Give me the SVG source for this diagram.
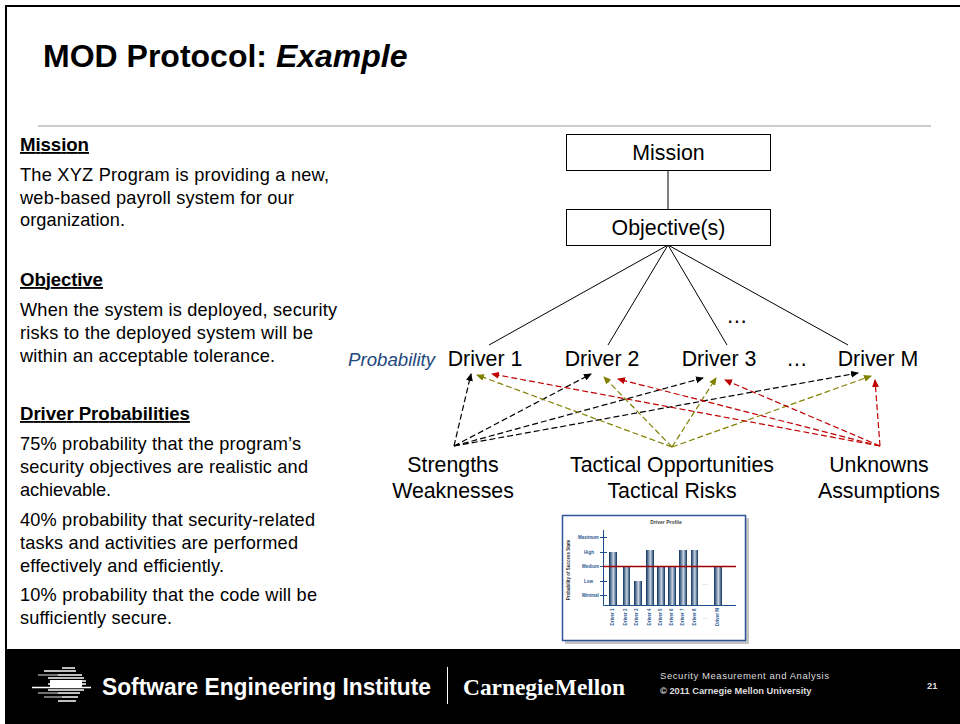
<svg xmlns="http://www.w3.org/2000/svg" width="960" height="724" viewBox="0 0 960 724">
<defs>
<linearGradient id="bar" x1="0" x2="1" y1="0" y2="0"><stop offset="0" stop-color="#0a2f5c"/><stop offset="0.55" stop-color="#c8d5e3"/><stop offset="1" stop-color="#0a2f5c"/></linearGradient>
<marker id="ak" markerWidth="8" markerHeight="7" refX="7" refY="3.5" orient="auto" markerUnits="userSpaceOnUse"><path d="M0 0L8 3.5L0 7z" fill="#000"/></marker>
<marker id="ao" markerWidth="8" markerHeight="7" refX="7" refY="3.5" orient="auto" markerUnits="userSpaceOnUse"><path d="M0 0L8 3.5L0 7z" fill="#808000"/></marker>
<marker id="ar" markerWidth="8" markerHeight="7" refX="7" refY="3.5" orient="auto" markerUnits="userSpaceOnUse"><path d="M0 0L8 3.5L0 7z" fill="#c00000"/></marker>
</defs>
<style>
text{font-family:"Liberation Sans",Arial,sans-serif;fill:#000}
.b{font-size:18.2px}.h{font-size:18.67px;font-weight:bold;text-decoration:underline}
.n{font-size:21.33px;text-anchor:middle}
.box{fill:#fff;stroke:#000;stroke-width:1}
.s{stroke:#000;stroke-width:1;fill:none}
.k,.o,.r{stroke-width:1.2;stroke-dasharray:6 3;fill:none}
.k{stroke:#000;marker-end:url(#ak)}.o{stroke:#808000;marker-end:url(#ao)}.r{stroke:#c00000;marker-end:url(#ar)}
.tk text{font-size:4.5px;font-weight:bold;fill:#2c5a94}
.v text{font-size:4.5px;font-weight:bold;fill:#2c5a94;text-anchor:middle}
.bar{fill:url(#bar)}
.w{stroke:#fff;stroke-width:1.5}.g{stroke:#999;stroke-width:1.5}
</style>
<rect width="960" height="724" fill="#fff"/>
<path d="M6 649V6H960" fill="none" stroke="#000" stroke-width="2"/>
<text x="43" y="67" font-size="32" font-weight="bold">MOD Protocol: <tspan font-style="italic">Example</tspan></text>
<line x1="38" y1="126" x2="931" y2="126" stroke="#bdbdbd" stroke-width="1.5"/>
<g id="left-text">
<text x="20" y="151" class="h" textLength="69">Mission</text>
<text x="20" y="181" class="b" textLength="309">The XYZ Program is providing a new,</text>
<text x="20" y="203.500" class="b" textLength="274">web-based payroll system for our</text>
<text x="20" y="226" class="b" textLength="105">organization.</text>
<text x="20" y="286" class="h" textLength="83">Objective</text>
<text x="20" y="316" class="b" textLength="317">When the system is deployed, security</text>
<text x="20" y="339" class="b" textLength="293">risks to the deployed system will be</text>
<text x="20" y="362" class="b" textLength="255">within an acceptable tolerance.</text>
<text x="20" y="420" class="h" textLength="170">Driver Probabilities</text>
<text x="20" y="450" class="b" textLength="281">75% probability that the program’s</text>
<text x="20" y="473" class="b" textLength="288">security objectives are realistic and</text>
<text x="20" y="496" class="b" textLength="91">achievable.</text>
<text x="20" y="526" class="b" textLength="295">40% probability that security-related</text>
<text x="20" y="549" class="b" textLength="278">tasks and activities are performed</text>
<text x="20" y="572" class="b" textLength="204">effectively and efficiently.</text>
<text x="20" y="601" class="b" textLength="297">10% probability that the code will be</text>
<text x="20" y="624" class="b" textLength="152">sufficiently secure.</text>
</g>
<g id="connectors">
<line class="s" x1="668" y1="170" x2="668" y2="209"/>
<line class="s" x1="668" y1="245" x2="489" y2="345"/>
<line class="s" x1="668" y1="245" x2="608" y2="345"/>
<line class="s" x1="668" y1="245" x2="727" y2="345"/>
<line class="s" x1="668" y1="245" x2="848" y2="345"/>
<line class="k" x1="454" y1="446" x2="471" y2="374"/>
<line class="k" x1="454" y1="446" x2="591" y2="374"/>
<line class="k" x1="454" y1="446" x2="703" y2="378"/>
<line class="k" x1="454" y1="446" x2="858" y2="373"/>
<line class="o" x1="672" y1="447" x2="477" y2="375"/>
<line class="o" x1="672" y1="447" x2="604" y2="377"/>
<line class="o" x1="672" y1="447" x2="716" y2="378"/>
<line class="o" x1="672" y1="447" x2="871" y2="376"/>
<line class="r" x1="880" y1="446" x2="492" y2="374"/>
<line class="r" x1="880" y1="446" x2="618" y2="379"/>
<line class="r" x1="880" y1="446" x2="725" y2="380"/>
<line class="r" x1="880" y1="446" x2="875" y2="380"/>
</g>
<g id="mission"><rect class="box" x="566.500" y="134.500" width="204" height="36"/><text class="n" x="668.500" y="160">Mission</text></g>
<g id="objectives"><rect class="box" x="566.500" y="209.500" width="204" height="36"/><text class="n" x="668.500" y="235">Objective(s)</text></g>
<text x="737" y="323" class="n">…</text>
<text x="348" y="366" font-size="18.67" font-style="italic" style="fill:#1f497d">Probability</text>
<g id="driver1"><text class="n" x="485" y="366">Driver 1</text></g>
<g id="driver2"><text class="n" x="602" y="366">Driver 2</text></g>
<g id="driver3"><text class="n" x="719" y="366">Driver 3</text></g>
<text class="n" x="797" y="366">…</text>
<g id="driverM"><text class="n" x="878" y="366">Driver M</text></g>
<g id="strengths"><text class="n" x="453" y="472">Strengths</text><text class="n" x="453" y="498">Weaknesses</text></g>
<g id="tactical"><text class="n" x="672" y="472">Tactical Opportunities</text><text class="n" x="672" y="498">Tactical Risks</text></g>
<g id="unknowns"><text class="n" x="879" y="472">Unknowns</text><text class="n" x="879" y="498">Assumptions</text></g>
<g id="driver-profile">
<rect x="565" y="518" width="184" height="126" fill="#c4c4c4"/>
<rect x="562.500" y="515.500" width="183" height="125" fill="#fff" stroke="#2f5597" stroke-width="1.5"/>
<text x="666" y="524" text-anchor="middle" font-size="5" font-weight="bold" style="fill:#444">Driver Profile</text>
<text transform="translate(570 570) rotate(-90)" text-anchor="middle" font-size="4.500" font-weight="bold" style="fill:#333">Probability of Success State</text>
<g class="tk">
<text x="578" y="539">Maximum</text><text x="584" y="554">High</text><text x="582" y="568">Medium</text><text x="584" y="583">Low</text><text x="582" y="597">Minimal</text>
</g>
<rect class="bar" x="609" y="552" width="8" height="53"/>
<rect class="bar" x="623" y="566" width="7" height="39"/>
<rect class="bar" x="634" y="581" width="8" height="24"/>
<rect class="bar" x="646" y="550" width="8" height="55"/>
<rect class="bar" x="657" y="566" width="8" height="39"/>
<rect class="bar" x="668" y="566" width="8" height="39"/>
<rect class="bar" x="679" y="550" width="8" height="55"/>
<rect class="bar" x="691" y="550" width="7" height="55"/>
<rect class="bar" x="714" y="566" width="8" height="39"/>
<path d="M603.500 530V605.500H736M600 537.500H607M600 552.500H607M600 566.500H607M600 581.500H607M600 595.500H607" fill="none" stroke="#1f4e8c" stroke-width="1"/>
<line x1="603" y1="566.500" x2="736" y2="566.500" stroke="#a00000" stroke-width="1.500"/>
<text x="705" y="585" text-anchor="middle" font-size="6" style="fill:#666">…</text>
<text x="705" y="619" text-anchor="middle" font-size="6" style="fill:#666">…</text>
<g class="v">
<text transform="translate(614 617) rotate(-90)">Driver 1</text>
<text transform="translate(627 617) rotate(-90)">Driver 2</text>
<text transform="translate(638 617) rotate(-90)">Driver 3</text>
<text transform="translate(651 617) rotate(-90)">Driver 4</text>
<text transform="translate(662 617) rotate(-90)">Driver 5</text>
<text transform="translate(673 617) rotate(-90)">Driver 6</text>
<text transform="translate(684 617) rotate(-90)">Driver 7</text>
<text transform="translate(696 617) rotate(-90)">Driver 8</text>
<text transform="translate(719 617) rotate(-90)">Driver M</text>
</g>
</g>
<g id="footer">
<rect x="5" y="649" width="955" height="75" fill="#000"/>
<g id="logo">
<line class="w" x1="62" x2="75" y1="668" y2="668"/>
<line class="w" x1="44" x2="76" y1="671" y2="671"/>
<line class="g" x1="38" x2="58" y1="675" y2="675"/><line class="w" x1="58" x2="82" y1="675" y2="675"/>
<line class="w" x1="48" x2="84" y1="678" y2="678"/>
<rect x="50" y="680" width="32" height="7" fill="#fff"/>
<line class="w" x1="52" x2="86" y1="681" y2="681"/><line class="w" x1="48" x2="86" y1="684" y2="684"/>
<line class="w" x1="32" x2="91" y1="687.500" y2="687.500"/><line class="w" x1="48" x2="84" y1="690" y2="690"/><line class="g" x1="38" x2="58" y1="693" y2="693"/><line class="w" x1="58" x2="80" y1="693" y2="693"/>
<line class="g" x1="44" x2="62" y1="697" y2="697"/><line class="w" x1="62" x2="78" y1="697" y2="697"/><line class="w" x1="58" x2="76" y1="701" y2="701"/>
</g>
<text x="102" y="695" font-size="24" font-weight="bold" textLength="329" lengthAdjust="spacingAndGlyphs" style="fill:#fff">Software Engineering Institute</text>
<line x1="447.500" y1="667" x2="447.500" y2="704" stroke="#fff" stroke-width="1"/>
<text x="463" y="695" font-size="24" textLength="162" lengthAdjust="spacingAndGlyphs" word-spacing="-5" style="fill:#fff;font-family:'Liberation Serif',serif;font-weight:bold">Carnegie Mellon</text>
<text x="660" y="679" font-size="9.500" textLength="169" lengthAdjust="spacing" style="fill:#ddd">Security Measurement and Analysis</text>
<text x="660" y="694" font-size="9.300" font-weight="bold" style="fill:#ddd">© 2011 Carnegie Mellon University</text>
<text x="927" y="689" font-size="9.300" font-weight="bold" style="fill:#ddd">21</text>
</g>
</svg>
